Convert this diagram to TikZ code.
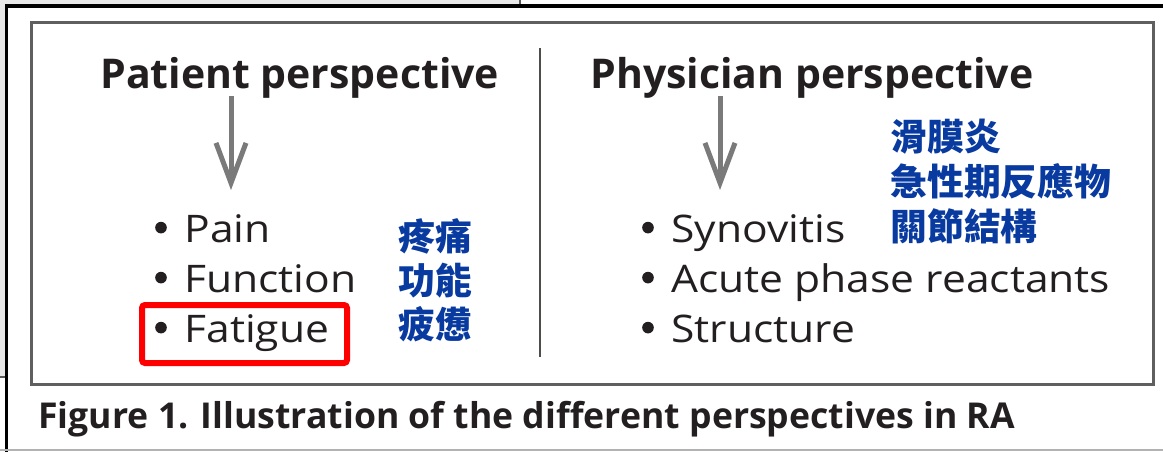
\documentclass[tikz,border=0pt]{standalone}
\usepackage{fontspec}
\setmainfont{Open Sans}
\newfontfamily\itemfont{Open Sans}[FakeStretch = 1.12]
\newfontfamily\cjk{Noto Sans CJK TC}
\usetikzlibrary{arrows.meta}
\definecolor{ink}{RGB}{35,31,32}
\definecolor{zhblue}{RGB}{8,58,160}
\definecolor{arrowgray}{RGB}{122,122,122}
\definecolor{framegray}{RGB}{95,95,95}
\tikzset{%
  title/.style   = {anchor = base west, inner sep = 0pt, text = ink,
    font = \fontsize{20.5}{24}\selectfont\bfseries},
  item/.style    = {anchor = base west, inner sep = 0pt, text = ink,
    font = \fontsize{19}{23}\selectfont\itemfont}, % list entry
  zh/.style      = {anchor = base west, inner sep = 0pt, text = zhblue,
    font = \fontsize{18.4}{22}\selectfont\cjk\bfseries}, % notes
  caption/.style = {anchor = base west, inner sep = 0pt, text = ink,
    font = \fontsize{17.8}{21}\selectfont\bfseries},
  down/.style    = {-{Straight Barb[length = 20pt, width = 15pt]},
    line width = 2.5pt, draw = arrowgray},
  hilite/.style  = {draw = red, line width = 3pt, rounded corners = 1.5pt}
}
% bullet in front of a list entry
\newcommand{\bull}[1]{\fill[ink] ([shift = {(-11.5pt,7.2pt)}]#1.base west) circle (2.9pt);}

\begin{document}
\begin{tikzpicture}[x = 0.5pt, y = -0.5pt]
\useasboundingbox (0,0) rectangle (1163,452);
%page edges
\fill[gray!18] (0,0) rectangle (520,4);
\fill[gray!18] (0,0) rectangle (5,377);
\draw[gray!70!black, line width = 1pt] (520,0) -- (520,4);
\draw[gray!70!black, line width = 1pt] (0,377) -- (5,377);
\draw[black, line width = 2pt] (5,6) -- (1163,6);
\draw[black, line width = 1.5pt] (6.5,5) -- (6.5,452);
\draw[gray!60, line width = 1pt] (0,450) -- (1163,450);
%frame
\draw[framegray, line width = 1.5pt] (31,22) rectangle (1153,384);
\draw[ink!80, line width = 1pt] (540,48) -- (540,357);
%headings
\draw
	(100,88) node [title] (pat) {Patient perspective}
	(590,88) node [title] (phy) {Physician perspective};
%lists
\draw
	(184,242) node [item] (pain) {Pain}
	(184,292) node [item] (func) {Function}
	(184,342) node [item] (fat) {Fatigue}
	(671,242) node [item] (syn) {Synovitis}
	(671,292) node [item] (acu) {Acute phase reactants}
	(671,342) node [item] (str) {Structure};
%bullets
\bull{pain} \bull{func} \bull{fat}
\bull{syn} \bull{acu} \bull{str}
%chinese notes
\draw
	(398,250) node [zh] (zpain) {疼痛}
	(398,294) node [zh] (zfunc) {功能}
	(398,338) node [zh] (zfat) {疲憊}
	(890,150) node [zh] (zsyn) {滑膜炎}
	(890,195) node [zh] (zacu) {急性期反應物}
	(890,240) node [zh] (zstr) {關節結構};
%arrows
\coordinate (pa) at (231,96);
\coordinate (pb) at (231,190);
\coordinate (qa) at (720,96);
\coordinate (qb) at (720,190);
\draw[down] (pa) -- (pb);
\draw[down] (qa) -- (qb);
%highlight
\draw[hilite] (142,305) rectangle (347,363);
%caption
\draw (38,428) node [caption] (cap) {Figure 1. Illustration of the different perspectives in RA};
\end{tikzpicture}
\end{document}
